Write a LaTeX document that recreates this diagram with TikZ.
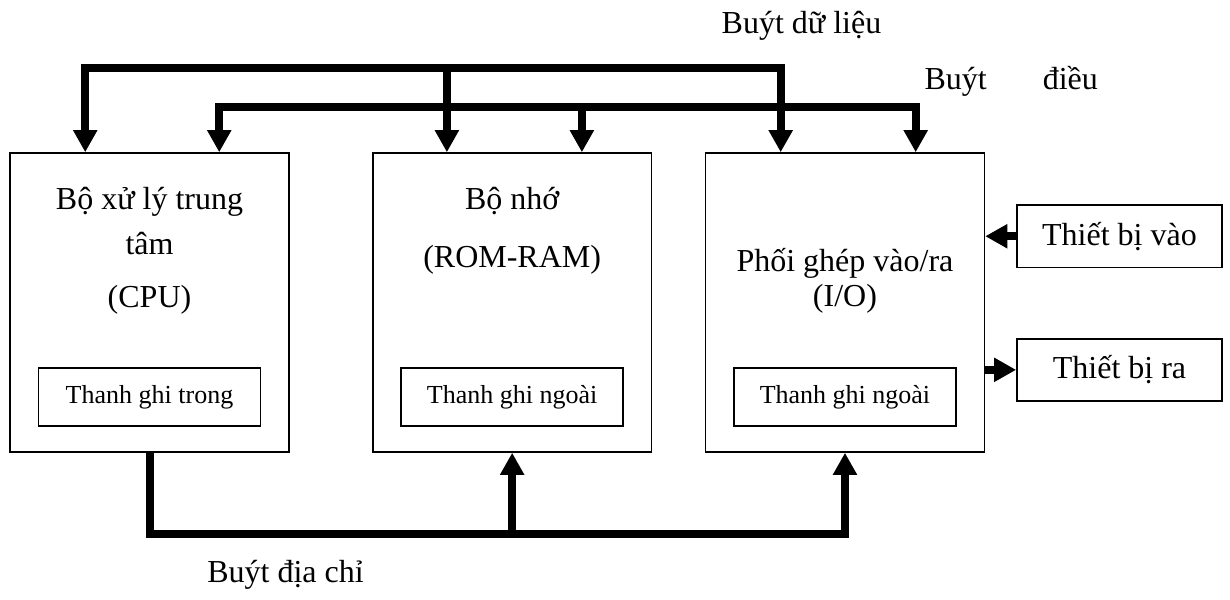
\documentclass[tikz,border=0pt]{standalone}
\usepackage{fontspec}
\setmainfont{Liberation Serif}
\usetikzlibrary{arrows.meta,positioning,calc}

\begin{document}
\begin{tikzpicture}[
    x=0.375pt, y=-0.375pt,
    >={Triangle[width=8.6pt,length=8.3pt]},
    unit/.style={rectangle, draw, line width=0.6pt, minimum width=104.6pt, minimum height=112.1pt, inner sep=0pt},
    reg/.style={rectangle, draw, line width=0.6pt, minimum width=83.25pt, minimum height=21.75pt, inner sep=0pt, font=\fontsize{9.75}{12}\selectfont},
    dev/.style={rectangle, draw, line width=0.6pt, minimum width=76.9pt, minimum height=23.3pt, inner sep=0pt, font=\fontsize{12}{14.4}\selectfont},
    title/.style={align=center, anchor=base, inner sep=0pt, font=\fontsize{12}{14.4}\selectfont},
    lbl/.style={anchor=base, inner sep=0pt, font=\fontsize{12}{14.4}\selectfont},
    bus/.style={line width=3pt},
  ]
    \useasboundingbox (0,0) rectangle (1230,599);

    % Main units
    \node[unit] (cpu) at (149.5,302.5) {};
    \node[unit, right=30.8pt of cpu] (mem) {};
    \node[unit, right=19.6pt of mem] (io) {};

    % titles (base = last line)
    \node[title] (cpuT) at ($(cpu.north)+(0,155)$) {Bộ xử lý trung\\[2.5pt]tâm\\[5.5pt](CPU)};
    \node[title] (memT) at ($(mem.north)+(0,115)$) {Bộ nhớ\\[7.35pt](ROM-RAM)};
    \node[title] (ioT) at ($(io.north)+(0,154)$) {Phối ghép vào/ra\\[-1.3pt](I/O)};

    % Registers
    \node[reg, above=9.75pt of cpu.south] (cpureg) {Thanh ghi trong};
    \node[reg, above=9.75pt of mem.south] (memreg) {Thanh ghi ngoài};
    \node[reg, above=9.75pt of io.south] (ioreg) {Thanh ghi ngoài};

    % Devices
    \node[dev, above right=12.9pt and 11.6pt of io.east] (inp) {Thiết bị vào};
    \node[dev, below right=13.3pt and 11.6pt of io.east] (outp) {Thiết bị ra};

    % Bus labels
    \node[lbl] (dlbl) at (801.5,33) {Buýt dữ liệu};
    \node[lbl, anchor=base west] (clbl) at (924,89) {Buýt\hspace{21pt}điều};
    \node[lbl] (albl) at (285.5,582) {Buýt địa chỉ};

    % Bus taps
    \coordinate (dtop) at (0,68);
    \coordinate (ctop) at (0,107);
    \coordinate (abot) at (0,534);
    \coordinate (cpuD) at ($(cpu.north west)+(76,0)$);
    \coordinate (memD) at ($(mem.north west)+(75,0)$);
    \coordinate (ioD) at ($(io.north west)+(76,0)$);
    \coordinate (cpuC) at ($(cpu.north west)+(210,0)$);
    \coordinate (memC) at ($(mem.north west)+(210,0)$);
    \coordinate (ioC) at ($(io.north west)+(211,0)$);

    % Data bus
    \draw[bus, <->] (cpuD) |- (dtop -| ioD) -- (ioD);
    \draw[bus, ->] (dtop -| memD) -- (memD);

    % Control bus
    \draw[bus, <->] (cpuC) |- (ctop -| ioC) -- (ioC);
    \draw[bus, ->] (ctop -| memC) -- (memC);

    % Address bus
    \draw[bus, ->] (cpu.south) |- (abot -| io.south) -- (io.south);
    \draw[bus, ->] (abot -| mem.south) -- (mem.south);

    % I/O devices
    \draw[bus, ->] (inp.west) -- (inp.west -| io.east);
    \draw[bus, ->] (outp.west -| io.east) -- (outp.west);
\end{tikzpicture}
\end{document}
